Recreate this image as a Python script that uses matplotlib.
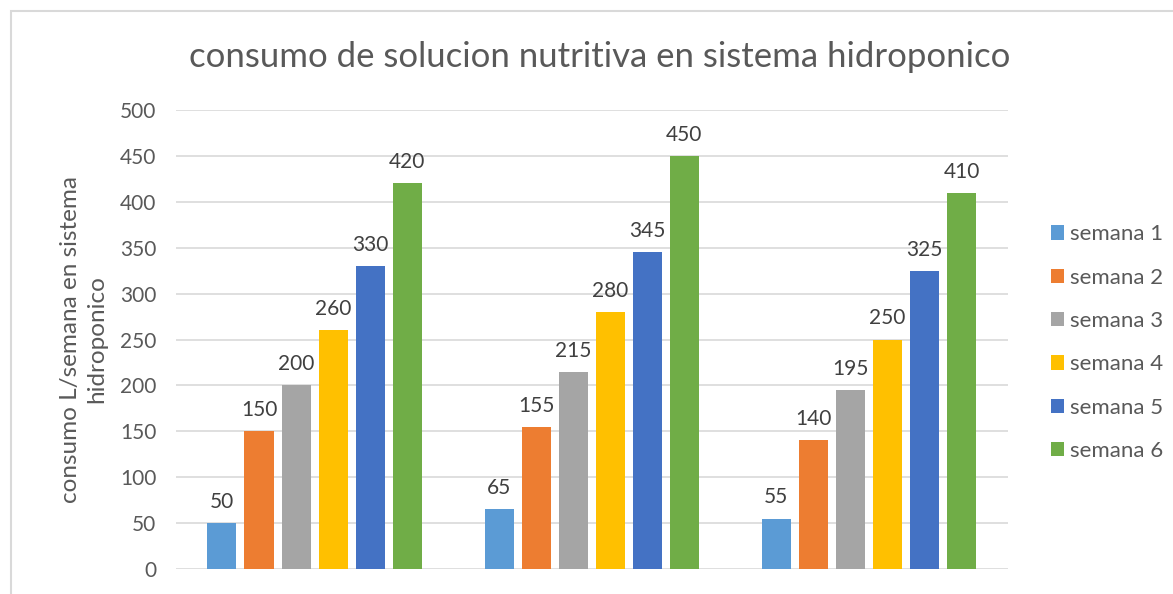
import numpy as np
import matplotlib.pyplot as plt
import matplotlib.patches as mpatches

plt.rcParams['font.family'] = ['Lato', 'DejaVu Sans']

# data
groups = ["", "", ""]
semanas = ["semana 1", "semana 2", "semana 3", "semana 4", "semana 5", "semana 6"]
valores = [
    [50, 65, 55],
    [150, 155, 140],
    [200, 215, 195],
    [260, 280, 250],
    [330, 345, 325],
    [420, 450, 410],
]
colores = ["#5b9bd5", "#ed7d31", "#a5a5a5", "#ffc000", "#4472c4", "#70ad47"]

fig = plt.figure(figsize=(11.73, 5.94), dpi=100)
ax = fig.add_axes([0.150, 0.0421, 0.709, 0.7727])

x = np.arange(len(groups))
slot = 0.1336
ancho = 0.1047
for i, (nombre, vals) in enumerate(zip(semanas, valores)):
    pos = x + (i - 2.5) * slot
    bars = ax.bar(pos, vals, width=ancho, color=colores[i], label=nombre, zorder=3)
    for b, v in zip(bars, vals):
        ax.annotate(str(v), (b.get_x() + b.get_width() / 2, v), xytext=(0, 8),
                    textcoords='offset points', ha='center', va='bottom',
                    fontsize=15, color='#404040')

ax.set_xlim(-0.5, 2.5)
ax.set_ylim(0, 500)
ax.set_yticks(np.arange(0, 501, 50))
ax.set_xticks([])
ax.grid(axis='y', color='#d9d9d9', linewidth=1.2, zorder=0)
for s in ax.spines.values():
    s.set_visible(False)
ax.tick_params(axis='y', length=0, labelsize=15, labelcolor='#595959', pad=14)
ax.set_ylabel("consumo L/semana en sistema\nhidroponico", fontsize=17.5, color='#595959',
              labelpad=9, linespacing=1.35)

fig.text(0.511, 0.904, "consumo de solucion nutritiva en sistema hidroponico",
         ha='center', va='center', fontsize=25, color='#595959')

ax.legend(loc='center left', bbox_to_anchor=(1.028, 0.493), frameon=False,
          fontsize=16, labelcolor='#595959', handlelength=0.6, handleheight=0.6,
          handletextpad=0.25, labelspacing=1.05)

# chart area border
fig.patches.append(mpatches.Rectangle((11 / 1173, -0.5), 2, 1.5 - 11 / 594,
                                      transform=fig.transFigure, fill=False,
                                      edgecolor='#d9d9d9', linewidth=1.5))

fig.savefig("out.png", dpi=100)
